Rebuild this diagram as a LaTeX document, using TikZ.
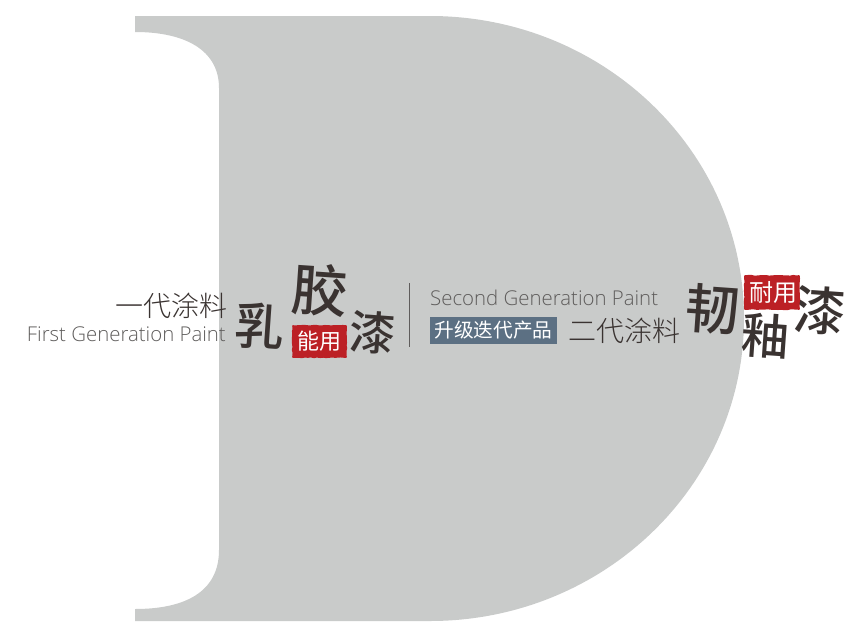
\documentclass[tikz,border=0pt]{standalone}
\usepackage{fontspec}
\usetikzlibrary{decorations.pathmorphing}
\setmainfont{Open Sans Light}
\newfontfamily\cjk{Noto Sans CJK SC}
\newfontfamily\cjklight{Noto Sans CJK SC Light}
\newfontfamily\cjkmed{Noto Sans CJK SC Medium}
\definecolor{shapegrey}{HTML}{C9CBCA}
\definecolor{inkdark}{HTML}{3A3331}
\definecolor{textgrey}{HTML}{5F5D5C}
\definecolor{sealred}{HTML}{BC2025}
\definecolor{tagblue}{HTML}{5C7083}
\tikzset{
  x=1pt,y=-1pt,
  brush/.style={font=\cjkmed\fontsize{#1}{#1}\selectfont,text=inkdark,inner sep=0pt},
  cnlabel/.style={font=\cjklight\fontsize{28}{28}\selectfont,text=inkdark,inner sep=0pt},
  enlabel/.style={font=\fontsize{20.4}{23}\selectfont,text=textgrey,inner sep=0pt},
  seal/.style={fill=sealred,draw=sealred,line width=1.6pt,line join=round,decorate,decoration={random steps,segment length=3pt,amplitude=.4pt}},
  sealtext/.style={font=\cjk\fontsize{#1}{#1}\selectfont,text=white,inner sep=0pt},
}
\begin{document}
\begin{tikzpicture}
\useasboundingbox (0,0) rectangle (856,621);
\fill[shapegrey] (135,16) -- (430,16)
  .. controls (603,16) and (744,151) .. (744,318.5)
  .. controls (744,486) and (603,621) .. (430,621)
  -- (135,621) -- (135,609)
  .. controls (185,609) and (219,592) .. (219,550)
  -- (219,88)
  .. controls (219,50) and (185,32) .. (135,32) -- cycle;
\node[cnlabel,anchor=east] (gen1) at (228,306) {一代涂料};
\node[enlabel,anchor=east] (gen1en) at (226,334) {First Generation Paint};
\node[brush=50,rotate=-4] (ru) at (260,326) {乳};
\node[brush=56,rotate=-4] (jiao) at (320,290) {胶};
\node[brush=46,rotate=-4] (qi1) at (373,333) {漆};
\node[seal,minimum width=53pt,minimum height=31pt] (seal1) at (319.5,341.5) {};
\node[sealtext=22] (seal1t) at (319.5,341.5) {能用};
\coordinate (divtop) at (409,283);
\coordinate (divbot) at (409,347);
\draw[textgrey,line width=1pt] (divtop) -- (divbot);
\node[enlabel,anchor=west] (gen2en) at (430,298) {Second Generation Paint};
\node[fill=tagblue,minimum width=127pt,minimum height=27pt,inner sep=0pt] (tag) at (493.5,330.5) {};
\node[font=\cjk\fontsize{19.7}{20}\selectfont,text=white,inner sep=0pt] (tagt) at (493.5,330.5) {升级迭代产品};
\node[cnlabel,anchor=east] (gen2) at (681,331) {二代涂料};
\node[brush=54,rotate=-4] (ren) at (713,309) {韧};
\node[brush=48,rotate=-4] (you) at (766,336) {釉};
\node[brush=52,rotate=-4] (qi2) at (820,311) {漆};
\node[seal,minimum width=54pt,minimum height=33pt] (seal2) at (772,292.5) {};
\node[sealtext=24] (seal2t) at (773,292.5) {耐用};
\end{tikzpicture}
\end{document}
